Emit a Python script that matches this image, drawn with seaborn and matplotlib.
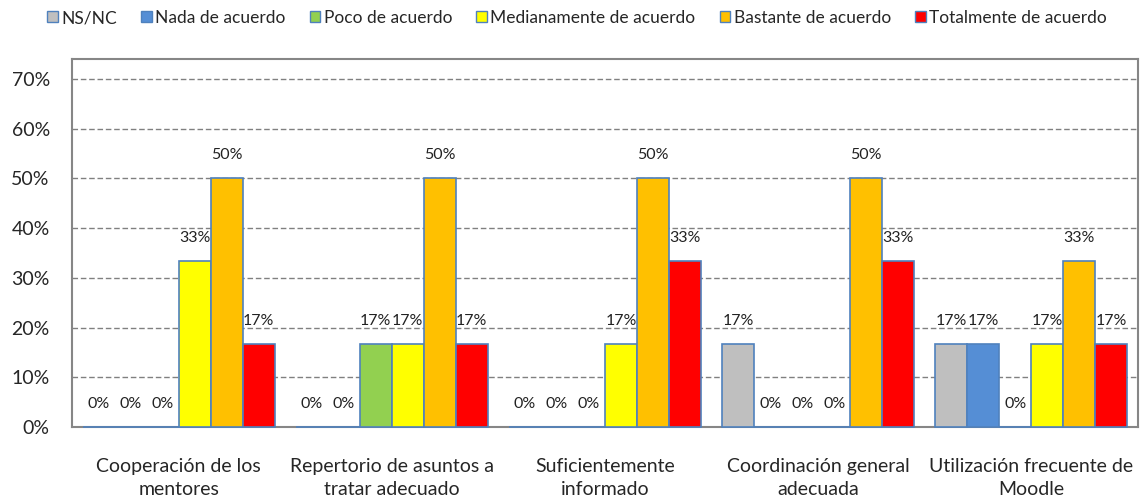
import matplotlib
matplotlib.use("Agg")
import matplotlib.pyplot as plt
import seaborn as sns
import pandas as pd
from matplotlib.patches import Patch

categories = ["Cooperación de los\nmentores", "Repertorio de asuntos a\ntratar adecuado",
              "Suficientemente\ninformado", "Coordinación general\nadecuada",
              "Utilización frecuente de\nMoodle"]
series = ["NS/NC", "Nada de acuerdo", "Poco de acuerdo", "Medianamente de acuerdo",
          "Bastante de acuerdo", "Totalmente de acuerdo"]
ns_nc = [0, 0, 0, 16.67, 16.67]
nada = [0, 0, 0, 0, 16.67]
poco = [0, 16.67, 0, 0, 0]
mediana = [33.33, 16.67, 16.67, 0, 16.67]
bastante = [50, 50, 50, 50, 33.33]
totalmente = [16.67, 16.67, 33.33, 33.33, 16.67]
colors = ["#BFBFBF", "#558ED5", "#92D050", "#FFFF00", "#FFC000", "#FF0000"]
yticks = [0, 10, 20, 30, 40, 50, 60, 70]

values = [ns_nc, nada, poco, mediana, bastante, totalmente]
rows = []
for s, vals in zip(series, values):
    for c, v in zip(categories, vals):
        rows.append({"cat": c, "serie": s, "val": v})
df = pd.DataFrame(rows)

sns.set_theme(style="white")
plt.rcParams['font.family'] = ['Lato', 'DejaVu Sans']

fig = plt.figure(figsize=(11.43, 5), dpi=100)
ax = fig.add_axes([72/1143, 1-427/500, (1138-72)/1143, (427-59)/500])

sns.barplot(data=df, x="cat", y="val", hue="serie", order=categories, hue_order=series,
            palette=colors, width=0.9, gap=0, edgecolor="#4F81BD", linewidth=1.2,
            ax=ax, legend=False, saturation=1)

for cont in ax.containers:
    for bar in cont:
        bar.set_zorder(3)
        bar.set_clip_on(False)
        h = bar.get_height()
        ax.annotate(f"{h:.0f}%", (bar.get_x() + bar.get_width()/2, h),
                    xytext=(0, 23), textcoords="offset pixels",
                    ha="center", va="center", fontsize=11.5, color="#222222")

ax.set_ylim(0, 74)
ax.set_yticks(yticks)
ax.set_yticklabels([f"{t}%" for t in yticks], fontsize=14)
ax.set_xlim(-0.5, 4.5)
ax.set_xlabel("")
ax.set_ylabel("")
ax.tick_params(axis="x", length=0, pad=22, labelsize=14)
ax.tick_params(axis="y", length=0, pad=16)
for t in ax.get_xticklabels():
    t.set_linespacing(1.45)
ax.yaxis.grid(True, linestyle=(0, (4, 2)), color="#808080", linewidth=1)
ax.set_axisbelow(True)
for sp in ax.spines.values():
    sp.set_color("#868686")
    sp.set_linewidth(1.5)
    sp.set_zorder(2.5)

handles = [Patch(facecolor=c, edgecolor="#4F81BD", label=s) for s, c in zip(series, colors)]
fig.legend(handles=handles, loc="center", bbox_to_anchor=(577/1143, 1-18/500), ncol=6,
           frameon=False, fontsize=12.5, handlelength=0.6, handleheight=0.6,
           handletextpad=0.2, columnspacing=1.4)

fig.savefig("out.png", dpi=100)
